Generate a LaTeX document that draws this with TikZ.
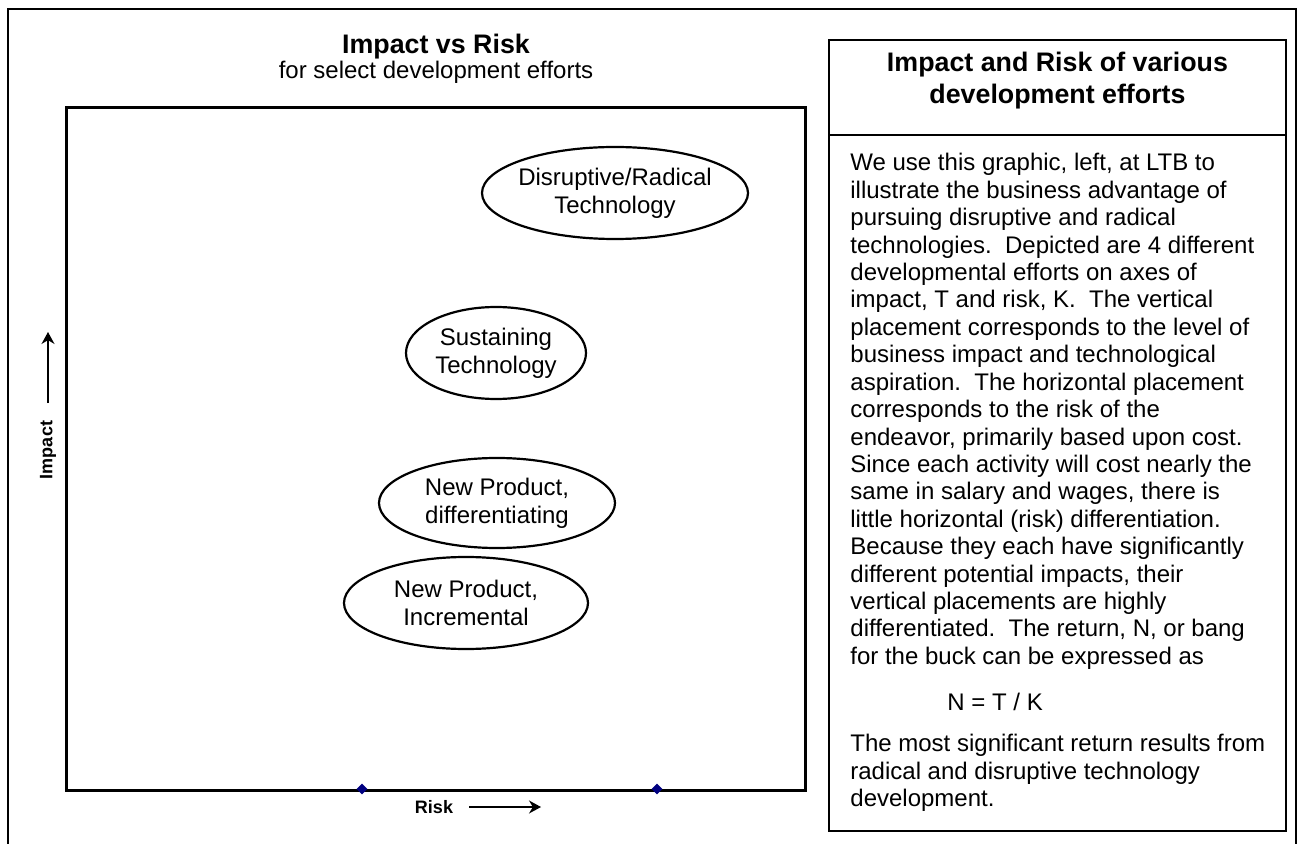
\documentclass[tikz,border=0pt]{standalone}
\usepackage{fontspec}
\setmainfont{Liberation Sans}
\usetikzlibrary{arrows.meta, shapes.geometric}
\definecolor{navy}{HTML}{000080}

\begin{document}
\begin{tikzpicture}[x=0.5pt, y=-0.5pt,
  font=\fontsize{12}{14}\selectfont,
  frameline/.style={draw=black, line width=0.65pt},
  plotbox/.style={draw=black, line width=1.5pt},
  infobox/.style={draw=black, line width=0.9pt},
  effort/.style={align=center, inner sep=0pt},
  effortring/.style={draw=black, line width=1.1pt},
  axislabel/.style={font=\fontsize{9}{10}\selectfont\bfseries, inner sep=0pt},
  axisarrow/.style={-{Stealth[length=6pt, width=6.5pt]}, line width=0.6pt},
  riskmark/.style={diamond, fill=navy, inner sep=0pt, minimum width=5.5pt, minimum height=5.5pt},
  bodyline/.style={anchor=base west, inner sep=0pt},
  heading/.style={font=\fontsize{13.4}{16}\selectfont\bfseries, align=center, inner sep=0pt}]

\useasboundingbox (0,0) rectangle (1300,844);
\clip (0,0) rectangle (1300,844);

% page frame (runs past the lower edge)
\draw[frameline] (8,9) rectangle (1296,870);

% ---- chart ----
\node[heading] (title) at (436,47) {Impact vs Risk};
\node[inner sep=0pt] (subtitle) at (436,72) {for select development efforts};

\draw[plotbox] (66,108) rectangle (805,790);

\node[riskmark] (m1) at (362,789) {};
\node[riskmark] (m2) at (657,789) {};

% axis captions
\node[axislabel] (risk) at (434,807) {Risk};
\coordinate (riskA) at (469,807);
\coordinate (riskB) at (541,807);
\draw[axisarrow] (riskA) -- (riskB);

\node[axislabel, rotate=90] (impact) at (48,450) {Impact};
\coordinate (impA) at (48,403);
\coordinate (impB) at (48,332);
\draw[axisarrow] (impA) -- (impB);

% development efforts
\node[effort] (dis) at (615,193) {Disruptive/Radical\\Technology};
\draw[effortring] (dis.center) ellipse [x radius=133, y radius=46];

\node[effort] (sus) at (496,353) {Sustaining\\Technology};
\draw[effortring] (sus.center) ellipse [x radius=90, y radius=46];

\node[effort] (diff) at (497,503) {New Product,\\differentiating};
\draw[effortring] (diff.center) ellipse [x radius=118, y radius=45];

\node[effort] (inc) at (466,603) {New Product,\\Incremental};
\draw[effortring] (inc.center) ellipse [x radius=122, y radius=46];

% ---- explanation panel ----
\draw[infobox] (829,40) rectangle (1286,831);
\draw[infobox] (829,135) -- (1286,135);

\node[heading] (head) at (1057.5,81) {Impact and Risk of various\\development efforts};

\foreach \txt [count=\i] in {
  {We use this graphic, left, at LTB to},
  {illustrate the business advantage of},
  {pursuing disruptive and radical},
  {technologies.\ \ Depicted are 4 different},
  {developmental efforts on axes of},
  {impact, T and risk, K.\ \ The vertical},
  {placement corresponds to the level of},
  {business impact and technological},
  {aspiration.\ \ The horizontal placement},
  {corresponds to the risk of the},
  {endeavor, primarily based upon cost.},
  {Since each activity will cost nearly the},
  {same in salary and wages, there is},
  {little horizontal (risk) differentiation.},
  {Because they each have significantly},
  {different potential impacts, their},
  {vertical placements are highly},
  {differentiated.\ \ The return, N, or bang},
  {for the buck can be expressed as}}
  \node[bodyline] (body\i) at (850,{171+(\i-1)*27.4}) {\txt};

\node[bodyline] (formula) at (947,710) {N = T / K};

\node[bodyline] (end1) at (850,751) {The most significant return results from};
\node[bodyline] (end2) at (850,779) {radical and disruptive technology};
\node[bodyline] (end3) at (850,806) {development.};

\end{tikzpicture}
\end{document}
